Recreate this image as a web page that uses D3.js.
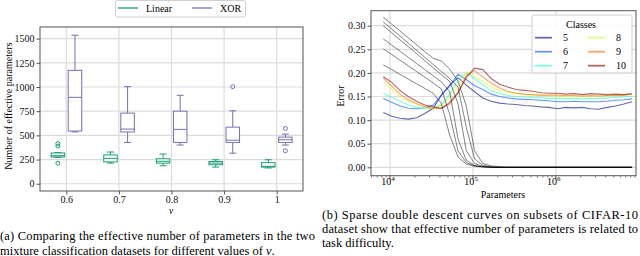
<!DOCTYPE html>
<html>
<head>
<meta charset="utf-8">
<script src="https://cdn.jsdelivr.net/npm/d3@7"></script>
<style>
  body { margin: 0; background: #fff; }
  svg { display: block; font-family: "Liberation Serif", "Times New Roman", serif; }
</style>
</head>
<body>
<svg id="fig" width="640" height="256"></svg>
<script>
// (a) effective number of parameters, box stats: [low whisker, q1, median, q3, high whisker]
const nuLabels = ["0.6", "0.7", "0.8", "0.9", "1"];
const linearBoxes = [
  [272, 277, 290, 318, 322],
  [213, 226, 262, 298, 328],
  [186, 213, 232, 258, 307],
  [172, 196, 213, 230, 248],
  [163, 172, 180, 218, 248]
];
const linearOutliers = [[416, 390, 212], [], [], [], []];
const xorBoxes = [
  [535, 545, 893, 1172, 1535],
  [427, 535, 565, 730, 1003],
  [400, 427, 562, 750, 914],
  [316, 427, 450, 585, 754],
  [400, 427, 455, 482, 513]
];
const xorOutliers = [[], [], [], [1003], [571, 341]];
const yTicksA = [0, 250, 500, 750, 1000, 1250, 1500];

// (b) sparse double descent on CIFAR-10 subsets
const params = [8300, 10500, 13200, 16600, 20900, 26300, 33100, 41700, 52500, 66100,
  83200, 104700, 131800, 166000, 208900, 263000, 331100, 416900, 524800, 660700,
  831800, 1047000, 1318000, 1660000, 2089000, 2630000, 3311000, 4169000, 5248000,
  6607000, 8318000];
const classes = [5, 6, 7, 8, 9, 10];
const testErr = [
  [0.116, 0.108, 0.104, 0.102, 0.105, 0.114, 0.125, 0.153, 0.174, 0.190, 0.174, 0.160, 0.147, 0.140, 0.136, 0.134, 0.133, 0.131, 0.130, 0.128, 0.127, 0.124, 0.127, 0.126, 0.127, 0.124, 0.123, 0.127, 0.130, 0.134, 0.139],
  [0.146, 0.138, 0.130, 0.125, 0.124, 0.126, 0.132, 0.153, 0.172, 0.197, 0.186, 0.173, 0.165, 0.155, 0.150, 0.147, 0.145, 0.144, 0.143, 0.142, 0.141, 0.139, 0.139, 0.140, 0.139, 0.139, 0.139, 0.140, 0.142, 0.143, 0.145],
  [0.157, 0.148, 0.140, 0.132, 0.127, 0.124, 0.125, 0.133, 0.155, 0.185, 0.200, 0.188, 0.175, 0.162, 0.157, 0.152, 0.150, 0.149, 0.148, 0.147, 0.146, 0.146, 0.145, 0.146, 0.145, 0.146, 0.146, 0.147, 0.148, 0.149, 0.150],
  [0.183, 0.166, 0.150, 0.140, 0.133, 0.127, 0.126, 0.131, 0.148, 0.172, 0.202, 0.192, 0.183, 0.170, 0.163, 0.158, 0.156, 0.154, 0.153, 0.152, 0.151, 0.151, 0.150, 0.150, 0.150, 0.150, 0.151, 0.151, 0.152, 0.153, 0.154],
  [0.189, 0.172, 0.155, 0.143, 0.135, 0.129, 0.124, 0.125, 0.134, 0.158, 0.195, 0.205, 0.191, 0.178, 0.168, 0.161, 0.157, 0.155, 0.154, 0.153, 0.153, 0.153, 0.152, 0.152, 0.151, 0.152, 0.151, 0.152, 0.152, 0.153, 0.156],
  [0.192, 0.180, 0.163, 0.150, 0.140, 0.132, 0.128, 0.125, 0.137, 0.158, 0.190, 0.210, 0.207, 0.188, 0.176, 0.170, 0.165, 0.163, 0.161, 0.158, 0.157, 0.157, 0.155, 0.156, 0.154, 0.156, 0.155, 0.154, 0.155, 0.154, 0.156]
];
const trainErr = [
  [0.217, 0.207, 0.197, 0.187, 0.177, 0.167, 0.157, 0.135, 0.068, 0.022, 0.007, 0.002, 0.001, 0, 0, 0, 0, 0, 0, 0, 0, 0, 0, 0, 0, 0, 0, 0, 0, 0, 0],
  [0.251, 0.239, 0.227, 0.215, 0.203, 0.191, 0.179, 0.166, 0.112, 0.035, 0.010, 0.003, 0.001, 0, 0, 0, 0, 0, 0, 0, 0, 0, 0, 0, 0, 0, 0, 0, 0, 0, 0],
  [0.272, 0.259, 0.246, 0.233, 0.220, 0.207, 0.194, 0.181, 0.160, 0.060, 0.015, 0.004, 0.001, 0, 0, 0, 0, 0, 0, 0, 0, 0, 0, 0, 0, 0, 0, 0, 0, 0, 0],
  [0.300, 0.285, 0.270, 0.256, 0.241, 0.226, 0.211, 0.196, 0.182, 0.135, 0.035, 0.008, 0.002, 0, 0, 0, 0, 0, 0, 0, 0, 0, 0, 0, 0, 0, 0, 0, 0, 0, 0],
  [0.308, 0.293, 0.278, 0.263, 0.248, 0.233, 0.218, 0.203, 0.188, 0.170, 0.085, 0.018, 0.004, 0.001, 0, 0, 0, 0, 0, 0, 0, 0, 0, 0, 0, 0, 0, 0, 0, 0, 0],
  [0.318, 0.303, 0.289, 0.274, 0.260, 0.245, 0.231, 0.225, 0.208, 0.183, 0.130, 0.035, 0.008, 0.003, 0.001, 0, 0, 0, 0, 0, 0, 0, 0, 0, 0, 0, 0, 0, 0, 0, 0]
];
const yTicksB = [0, 0.05, 0.10, 0.15, 0.20, 0.25, 0.30];

const linColor = "#1b9e77", xorColor = "#7570b3";
const classColors = ["#000080", "#004cff", "#29ffce", "#ceff29", "#ff6800", "#800000"];
const gridColor = "#dcdcdc", frameColor = "#555";

const svg = d3.select("#fig");

// ================= (a) box plots =================
const xA = d3.scaleLinear().domain([-0.5, 4.5]).range([40, 303]);
const yA = d3.scaleLinear().domain([-75, 1620]).range([191, 27]);
const gA = svg.append("g");

gA.selectAll("line.hgrid").data(yTicksA).enter().append("line")
    .attr("x1", 40).attr("x2", 303)
    .attr("y1", d => yA(d)).attr("y2", d => yA(d))
    .attr("stroke", gridColor).attr("stroke-width", 1.2);
gA.selectAll("line.vgrid").data(nuLabels).enter().append("line")
    .attr("x1", (d, i) => xA(i)).attr("x2", (d, i) => xA(i))
    .attr("y1", 27).attr("y2", 191)
    .attr("stroke", gridColor).attr("stroke-width", 1.2);

const yAxisA = gA.append("g").attr("transform", "translate(40,0)")
    .call(d3.axisLeft(yA).tickValues(yTicksA).tickFormat(d3.format("d")).tickSize(3.5).tickPadding(2));
const xAxisA = gA.append("g").attr("transform", "translate(0,191)")
    .call(d3.axisBottom(xA).tickValues(d3.range(nuLabels.length))
      .tickFormat(i => nuLabels[i]).tickSize(3.5).tickPadding(1));
[yAxisA, xAxisA].forEach(ax => {
  ax.select(".domain").remove();
  ax.selectAll("line").attr("stroke", frameColor);
  ax.selectAll("text").attr("font-family", "Liberation Serif").attr("font-size", 10).attr("fill", "#111");
});

function drawBox(g, st, outs, cx, color) {
  const w = 13.5, cap = 7;
  const b = g.append("g").attr("stroke", color).attr("stroke-width", 1).attr("fill", "none");
  b.append("line").attr("x1", cx).attr("x2", cx).attr("y1", yA(st[0])).attr("y2", yA(st[1]));
  b.append("line").attr("x1", cx).attr("x2", cx).attr("y1", yA(st[3])).attr("y2", yA(st[4]));
  b.append("line").attr("x1", cx - cap / 2).attr("x2", cx + cap / 2).attr("y1", yA(st[0])).attr("y2", yA(st[0]));
  b.append("line").attr("x1", cx - cap / 2).attr("x2", cx + cap / 2).attr("y1", yA(st[4])).attr("y2", yA(st[4]));
  b.append("rect").attr("x", cx - w / 2).attr("y", yA(st[3]))
    .attr("width", w).attr("height", yA(st[1]) - yA(st[3])).attr("fill", "#fff");
  b.append("line").attr("x1", cx - w / 2).attr("x2", cx + w / 2).attr("y1", yA(st[2])).attr("y2", yA(st[2]));
  b.selectAll("circle").data(outs).enter().append("circle")
    .attr("cx", cx).attr("cy", d => yA(d)).attr("r", 2);
}
linearBoxes.forEach((st, i) => drawBox(gA, st, linearOutliers[i], xA(i - 0.16), linColor));
xorBoxes.forEach((st, i) => drawBox(gA, st, xorOutliers[i], xA(i + 0.165), xorColor));

gA.append("rect").attr("x", 40).attr("y", 27).attr("width", 263).attr("height", 164)
    .attr("fill", "none").attr("stroke", frameColor).attr("stroke-width", 1);

gA.append("text").attr("transform", "translate(12,106) rotate(-90)")
    .attr("text-anchor", "middle").attr("font-size", 10).text("Number of effective parameters");
gA.append("text").attr("x", 171).attr("y", 213.5).attr("text-anchor", "middle")
    .attr("font-size", 9.5).attr("font-style", "italic").text("ν");

// legend (a)
const legA = svg.append("g");
legA.append("rect").attr("x", 115.5).attr("y", 0.5).attr("width", 130).attr("height", 16.5)
    .attr("rx", 2).attr("fill", "#fff").attr("stroke", "#d0d0d0");
[["Linear", linColor, 118], ["XOR", xorColor, 192]].forEach(([lab, c, x0]) => {
  legA.append("line").attr("x1", x0).attr("x2", x0 + 20).attr("y1", 8).attr("y2", 8)
    .attr("stroke", c).attr("stroke-width", 1.6).attr("stroke-opacity", 0.8);
  legA.append("text").attr("x", x0 + 28).attr("y", 11.5).attr("font-size", 10).text(lab);
});

// ================= (b) double descent =================
const xB = d3.scaleLog().domain([5900, 9.27e6]).range([371, 636]);
const yB = d3.scaleLinear().domain([-0.0178, 0.3318]).range([175.7, 10.7]);
const gB = svg.append("g");

gB.selectAll("line.hgrid").data(yTicksB).enter().append("line")
    .attr("x1", 371).attr("x2", 636)
    .attr("y1", d => yB(d)).attr("y2", d => yB(d))
    .attr("stroke", gridColor).attr("stroke-width", 1.2);
const majors = [1e4, 1e5, 1e6];
gB.selectAll("line.vgrid").data(majors).enter().append("line")
    .attr("x1", d => xB(d)).attr("x2", d => xB(d))
    .attr("y1", 10.7).attr("y2", 175.7)
    .attr("stroke", gridColor).attr("stroke-width", 1.2);

const yAxisB = gB.append("g").attr("transform", "translate(371,0)")
    .call(d3.axisLeft(yB).tickValues(yTicksB).tickFormat(d3.format(".2f")).tickSize(3.5).tickPadding(2));
yAxisB.select(".domain").remove();
yAxisB.selectAll("line").attr("stroke", frameColor);
yAxisB.selectAll("text").attr("font-family", "Liberation Serif").attr("font-size", 10).attr("fill", "#111");

const minors = xB.ticks().filter(t => !majors.includes(t));
gB.selectAll("line.minor").data(minors).enter().append("line")
    .attr("x1", d => xB(d)).attr("x2", d => xB(d))
    .attr("y1", 175.7).attr("y2", 177.7).attr("stroke", frameColor).attr("stroke-width", 0.7);
gB.selectAll("line.major").data(majors).enter().append("line")
    .attr("x1", d => xB(d)).attr("x2", d => xB(d))
    .attr("y1", 175.7).attr("y2", 179.2).attr("stroke", frameColor);
const majLab = gB.selectAll("text.maj").data(majors).enter().append("text")
    .attr("x", d => xB(d) - 2).attr("y", 185).attr("text-anchor", "middle").attr("font-size", 10);
majLab.append("tspan").text("10");
majLab.append("tspan").attr("dy", -4).attr("font-size", 7).text(d => Math.round(Math.log10(d)));

const line = d3.line().x((d, i) => xB(params[i])).y(d => yB(d));
testErr.forEach((s, k) => {
  gB.append("path").datum(s).attr("d", line).attr("fill", "none")
    .attr("stroke", classColors[k]).attr("stroke-opacity", 0.6).attr("stroke-width", 1.1);
});
trainErr.forEach(s => {
  gB.append("path").datum(s).attr("d", line).attr("fill", "none")
    .attr("stroke", "#000").attr("stroke-opacity", 0.55).attr("stroke-width", 0.9);
});

gB.append("rect").attr("x", 371).attr("y", 10.7).attr("width", 265).attr("height", 165)
    .attr("fill", "none").attr("stroke", frameColor).attr("stroke-width", 1);

gB.append("text").attr("transform", "translate(344,96) rotate(-90)")
    .attr("text-anchor", "middle").attr("font-size", 10).text("Error");
gB.append("text").attr("x", 503).attr("y", 198).attr("text-anchor", "middle")
    .attr("font-size", 10).text("Parameters");

// legend (b)
const legB = svg.append("g");
legB.append("rect").attr("x", 532).attr("y", 15).attr("width", 100).attr("height", 58)
    .attr("rx", 2).attr("fill", "#fff").attr("fill-opacity", 0.85).attr("stroke", "#d0d0d0");
legB.append("text").attr("x", 581).attr("y", 27.5).attr("text-anchor", "middle")
    .attr("font-size", 10).text("Classes");
classes.forEach((c, k) => {
  const col = Math.floor(k / 3), row = k % 3;
  const x0 = col ? 588 : 535, yy = 37.7 + row * 14;
  legB.append("line").attr("x1", x0).attr("x2", x0 + 17).attr("y1", yy).attr("y2", yy)
    .attr("stroke", classColors[k]).attr("stroke-opacity", 0.6).attr("stroke-width", 1.8);
  legB.append("text").attr("x", x0 + 28).attr("y", yy + 3.5).attr("font-size", 10).text(c);
});

// captions
const capA = ["(a) Comparing the effective number of parameters in the two",
              "mixture classification datasets for different values of "];
const capB = ["(b) Sparse double descent curves on subsets of CIFAR-10",
              "dataset show that effective number of parameters is related to",
              "task difficulty."];
svg.append("text").attr("x", 0).attr("y", 240).attr("font-size", 12.5)
    .attr("textLength", 315).attr("lengthAdjust", "spacing").text(capA[0]);
const a2 = svg.append("text").attr("x", 0).attr("y", 254.5).attr("font-size", 12.5).text(capA[1]);
a2.append("tspan").attr("font-style", "italic").text("ν");
a2.append("tspan").text(".");
capB.forEach((t, i) => {
  const tx = svg.append("text").attr("x", 322).attr("y", 219 + i * 14.2).attr("font-size", 12.5).text(t);
  if (i < 2) tx.attr("textLength", 316).attr("lengthAdjust", "spacing");
});
</script>
</body>
</html>
